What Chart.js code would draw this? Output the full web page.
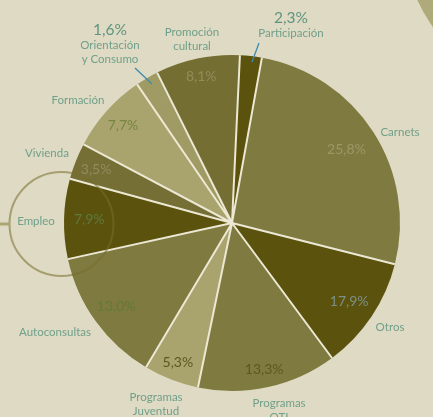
<!DOCTYPE html>
<html>
<head>
<meta charset="utf-8">
<script src="https://cdn.jsdelivr.net/npm/chart.js@4/dist/chart.umd.min.js"></script>
<style>
    html, body { margin: 0; padding: 0; background: #dfdac3; }
    #wrap { width: 433px; height: 417px; position: relative; }
</style>
</head>
<body>
<div id="wrap"><canvas id="pie"></canvas></div>
<script>
// categories, clockwise from the top
const categories = [
    'Participación', 'Carnets', 'Otros', 'Programas OTI', 'Programas Juventud',
    'Autoconsultas', 'Empleo', 'Vivienda', 'Formación', 'Orientación y Consumo', 'Promoción cultural',
];
// percentages printed on the chart
const printedPercents = [2.3, 25.8, 17.9, 13.3, 5.3, 13.0, 7.9, 3.5, 7.7, 1.6, 8.1];
// slice sizes as drawn (the printed figures add up to more than 100)
const sliceSizes = [2.1, 26.1, 10.9, 13.4, 5.3, 13.0, 7.7, 3.5, 7.7, 2.2, 8.1];

const sliceColors = [
    '#5b530d', '#7f7a3f', '#5b530d', '#7f7a3f', '#a9a36d',
    '#7f7a3f', '#5b530d', '#766f35', '#a9a36d', '#a09b64', '#756e33',
];
const pctColors = [
    '#5e9580', '#9a9867', '#7d8f86', '#5c5820', '#5c5820',
    '#637a38', '#5d7a3e', '#8e8c60', '#76863e', '#5e9580', '#908d5b',
];

// outer name labels: [lines, x, y]
const nameLabels = [
    [['Participación'], 291, 33],
    [['Carnets'], 400, 132],
    [['Otros'], 390, 327],
    [['Programas', 'OTI'], 279, 403],
    [['Programas', 'Juventud'], 156, 397],
    [['Autoconsultas'], 55, 332],
    [['Empleo'], 36, 221],
    [['Vivienda'], 47, 153],
    [['Formación'], 78, 100],
    [['Orientación', 'y Consumo'], 110, 45],
    [['Promoción', 'cultural'], 192, 32],
];
// percentages placed outside their slice (small slices)
const outsidePct = { 0: [291, 18], 9: [110, 30] };
// radial position of the inside percentages, as share of the radius
const pctRadius = [0, 0.81, 0.84, 0.89, 0.89, 0.85, 0.85, 0.87, 0.87, 0, 0.89];

const fmt = v => v.toFixed(1).replace('.', ',') + '%';

const decor = {
    id: 'decor',
    beforeDraw(chart) {
        const { ctx } = chart;
        ctx.save();
        ctx.fillStyle = '#dfdac3';
        ctx.fillRect(0, 0, chart.width, chart.height);
        // piece of a neighbouring disc in the top right corner
        ctx.fillStyle = '#b0aa7a';
        ctx.beginPath();
        ctx.arc(570, -70, 168, 0, Math.PI * 2);
        ctx.fill();
        ctx.restore();
    },
    afterDatasetsDraw(chart) {
        const { ctx } = chart;
        const arcs = chart.getDatasetMeta(0).data;
        ctx.save();

        // light separators between slices, no outline on the rim
        ctx.strokeStyle = '#ece8d4';
        ctx.lineWidth = 2;
        ctx.beginPath();
        arcs.forEach(arc => {
            const { x, y, startAngle, outerRadius } = arc.getProps(['x', 'y', 'startAngle', 'outerRadius'], true);
            ctx.moveTo(x, y);
            ctx.lineTo(x + Math.cos(startAngle) * outerRadius, y + Math.sin(startAngle) * outerRadius);
        });
        ctx.stroke();

        ctx.textAlign = 'center';
        ctx.textBaseline = 'middle';

        // leader lines for the two thin slices
        ctx.strokeStyle = '#3a8db3';
        ctx.lineWidth = 1.3;
        ctx.beginPath();
        ctx.moveTo(259, 43);
        ctx.lineTo(252, 62);
        ctx.moveTo(135, 68);
        ctx.lineTo(152, 84);
        ctx.stroke();

        // percentages
        arcs.forEach((arc, i) => {
            ctx.fillStyle = pctColors[i];
            if (outsidePct[i]) {
                ctx.font = '15.5px Lato';
                ctx.fillText(fmt(printedPercents[i]), outsidePct[i][0], outsidePct[i][1]);
                return;
            }
            const { x, y, startAngle, endAngle, outerRadius } = arc.getProps(
                ['x', 'y', 'startAngle', 'endAngle', 'outerRadius'], true);
            const mid = (startAngle + endAngle) / 2;
            const r = outerRadius * pctRadius[i];
            ctx.font = '14px Lato';
            ctx.fillText(fmt(printedPercents[i]), x + Math.cos(mid) * r, y + Math.sin(mid) * r);
        });

        // names
        ctx.fillStyle = '#70a08b';
        ctx.font = '11.5px Lato';
        nameLabels.forEach(([lines, x, y]) => {
            lines.forEach((t, k) => ctx.fillText(t, x, y + k * 14));
        });

        // ring around "Empleo"
        ctx.strokeStyle = 'rgba(118,110,45,0.55)';
        ctx.lineWidth = 2;
        ctx.beginPath();
        ctx.arc(61.5, 224, 52, 0, Math.PI * 2);
        ctx.stroke();
        ctx.strokeStyle = '#aca672';
        ctx.lineWidth = 3;
        ctx.beginPath();
        ctx.moveTo(0, 224);
        ctx.lineTo(10, 224);
        ctx.stroke();
        ctx.restore();
    },
};

new Chart(document.getElementById('pie'), {
    type: 'pie',
    data: {
        labels: categories,
        datasets: [{
            data: sliceSizes,
            backgroundColor: sliceColors,
            borderWidth: 0,
        }],
    },
    options: {
        responsive: true,
        maintainAspectRatio: false,
        animation: false,
        rotation: 2.7,
        layout: { padding: { left: 64, right: 33, top: 55, bottom: 26 } },
        plugins: {
            legend: { display: false },
            tooltip: { enabled: false },
        },
    },
    plugins: [decor],
});
</script>
</body>
</html>
